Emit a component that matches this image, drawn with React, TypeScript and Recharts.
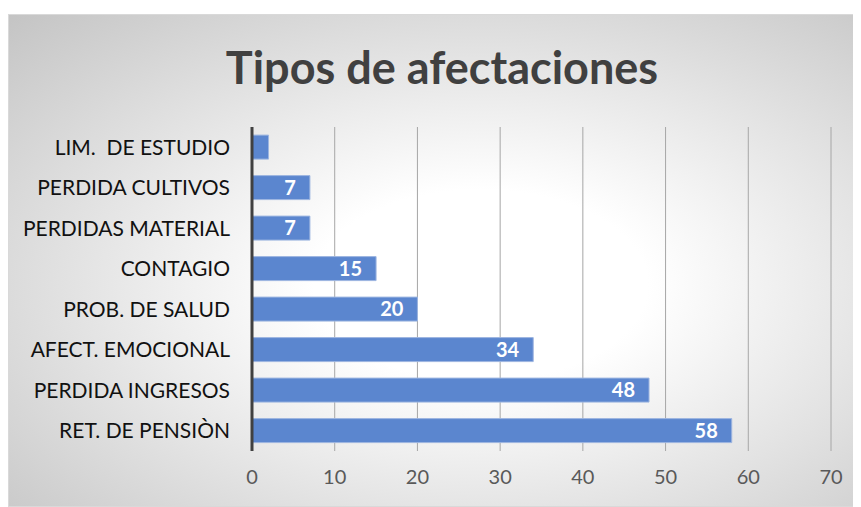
import { Bar, BarChart, CartesianGrid, LabelList, XAxis, YAxis } from 'recharts'

const categories = [
  'LIM.\u00a0 DE ESTUDIO',
  'PERDIDA CULTIVOS',
  'PERDIDAS MATERIAL',
  'CONTAGIO',
  'PROB. DE SALUD',
  'AFECT. EMOCIONAL',
  'PERDIDA INGRESOS',
  'RET. DE PENSIÒN',
]
const counts = [2, 7, 7, 15, 20, 34, 48, 58]
const xTicks = [0, 10, 20, 30, 40, 50, 60, 70]

const data = categories.map((name, i) => ({ name, value: counts[i] }))

const FONT = 'Lato, "Open Sans", sans-serif'

export default function App() {
  return (
    <div
      style={{
        position: 'relative',
        marginTop: 6,
        width: 860,
        height: 493,
        border: '1px solid #d9d9d9',
        boxSizing: 'border-box',
        background: 'radial-gradient(ellipse at 55% 55%, #ffffff 25%, #c4c4c4 100%)',
        fontFamily: FONT,
      }}
    >
      <div
        style={{
          position: 'absolute',
          left: 0,
          top: 25,
          width: 866,
          textAlign: 'center',
          fontSize: 45,
          fontWeight: 700,
          color: '#404040',
        }}
      >
        Tipos de afectaciones
      </div>
      <BarChart
        width={858}
        height={491}
        data={data}
        layout="vertical"
        barCategoryGap="20%"
        margin={{ top: 112, right: 36, left: 0, bottom: 1 }}
      >
        <CartesianGrid horizontal={false} stroke="#a6a6a6" />
        <XAxis
          type="number"
          domain={[0, 70]}
          ticks={xTicks}
          axisLine={false}
          tickLine={false}
          tickSize={0}
          tickMargin={19}
          height={54}
          tick={{ fill: '#595959', fontSize: 20, fontFamily: FONT }}
        />
        <YAxis
          type="category"
          dataKey="name"
          width={243}
          axisLine={{ stroke: '#404040', strokeWidth: 3 }}
          tickLine={false}
          tickSize={0}
          tickMargin={22}
          interval={0}
          tick={{ fill: '#111111', fontSize: 21, fontFamily: FONT }}
        />
        <Bar dataKey="value" fill="#5b86cf" stroke="#9db5e0" strokeWidth={1} isAnimationActive={false}>
          <LabelList
            dataKey="value"
            position="insideRight"
            offset={14}
            fill="#ffffff"
            style={{ fontSize: 20, fontWeight: 700, fontFamily: FONT }}
            formatter={(v: any) => (Number(v) < 5 ? '' : v)}
          />
        </Bar>
      </BarChart>
    </div>
  )
}
